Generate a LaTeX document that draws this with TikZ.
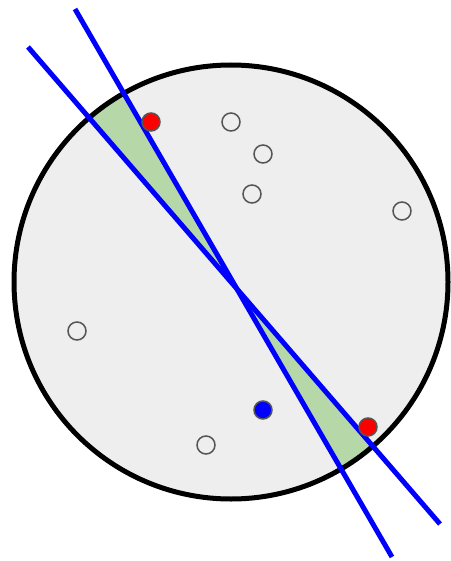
\documentclass[tikz,border=0pt]{standalone}
\usetikzlibrary{positioning, calc}
\definecolor{discgray}{HTML}{EEEEEE}
\definecolor{wedgegreen}{HTML}{B6D7A8}
\definecolor{ringgray}{HTML}{555555}

\begin{document}
\begin{tikzpicture}[
      x=1pt, y=-1pt,
      sample/.style={circle, draw=ringgray, line width=1.5pt, minimum size=18pt, inner sep=0pt},
      hollow/.style={sample},
      redpt/.style={sample, fill=red},
      bluept/.style={sample, fill=blue},
      split/.style={draw=blue, line width=5pt},
    ]
    \useasboundingbox (0,0) rectangle (450,561);
    % disc
    \coordinate (centre) at (231,282);
    \fill[discgray] (centre) circle (217);
    % the two lines
    \coordinate (a1) at (75,9);
    \coordinate (a2) at (392,557);
    \coordinate (b1) at (28,47);
    \coordinate (b2) at (440,524);
    \coordinate (cross) at (237.6,290);
    \begin{scope}
      \clip (centre) circle (217);
      \fill[wedgegreen, draw=ringgray!60, line width=0.6pt] (cross) -- (a1) -- (b1) -- cycle;
      \fill[wedgegreen, draw=ringgray!60, line width=0.6pt] (cross) -- (a2) -- (b2) -- cycle;
    \end{scope}
    \draw[line width=5pt] (centre) circle (217);
    \draw[split] (a1) -- (a2);
    \draw[split] (b1) -- (b2);
    % samples
    \node[redpt] (r1) at (151,122) {};
    \node[redpt] (r2) at (368,427) {};
    \node[bluept] (q) at (263,410) {};
    \node[hollow] (h1) at (231,122) {};
    \node[hollow] (h2) at (263,154) {};
    \node[hollow] (h3) at (252,194) {};
    \node[hollow] (h4) at (402,211) {};
    \node[hollow] (h5) at (77,331) {};
    \node[hollow] (h6) at (206,445) {};
  \end{tikzpicture}
\end{document}
